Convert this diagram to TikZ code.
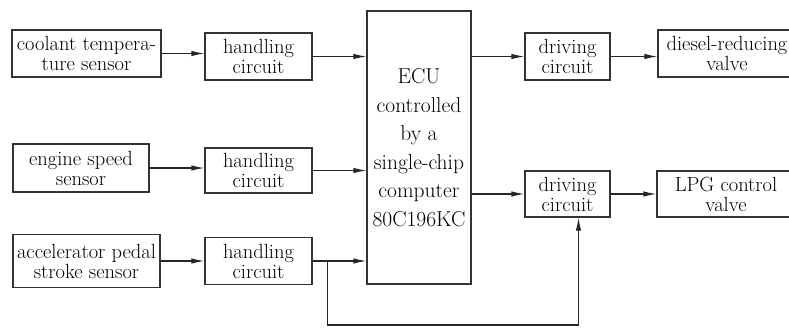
\documentclass[tikz,border=0pt]{standalone}
\usetikzlibrary{arrows.meta,calc}
\begin{document}
\begin{tikzpicture}[x=1pt,y=-1pt,
  box/.style={draw=black!80,line width=1.3pt,inner sep=0pt,align=center,font=\fontsize{20.5}{20}\selectfont},
  ecubox/.style={box,font=\fontsize{21.5}{28.5}\selectfont},
  arr/.style={draw=black!85,line width=1.1pt,-{Latex[length=13pt,width=5.5pt]}}]
\useasboundingbox (0,0) rectangle (789,327);
\clip (0,0) rectangle (789,327);
% sensors
\node[box,minimum width=149pt,minimum height=47pt] (cool) at (86.5,53.5) {coolant tempera-\\ture sensor};
\node[box,minimum width=136pt,minimum height=48pt] (eng) at (81,168) {engine speed\\sensor};
\node[box,minimum width=147pt,minimum height=53pt] (acc) at (86.5,261) {accelerator pedal\\stroke sensor};
% handling circuits
\node[box,minimum width=107pt,minimum height=47pt] (h1) at (258.5,56.5) {handling\\circuit};
\node[box,minimum width=107pt,minimum height=45pt] (h2) at (258.5,170.5) {handling\\circuit};
\node[box,minimum width=107pt,minimum height=47pt] (h3) at (258.5,261) {handling\\circuit};
% ECU
\node[ecubox,minimum width=104pt,minimum height=273pt] (ecu) at (419,147.5) {ECU\\controlled\\by a\\single-chip\\computer\\80C196KC};
% driving circuits
\node[box,minimum width=85pt,minimum height=47pt] (d1) at (567.5,56.5) {driving\\circuit};
\node[box,minimum width=85pt,minimum height=46pt] (d2) at (567.5,194) {driving\\circuit};
% valves
\node[box,minimum width=138pt,minimum height=47pt] (dsl) at (727,53.5) {diesel-reducing\\valve};
\node[box,minimum width=138pt,minimum height=46pt] (lpg) at (726,194) {LPG control\\valve};
% connectors
\draw[arr] (cool.east) -- (cool.east -| h1.west);
\draw[arr] (eng.east) -- (eng.east -| h2.west);
\draw[arr] (acc.east) -- (acc.east -| h3.west);
\draw[arr] (h1.east) -- (h1.east -| ecu.west);
\draw[arr] (h2.east) -- (h2.east -| ecu.west);
\draw[arr] (h3.east) -- (h3.east -| ecu.west);
\draw[arr] (d1.west -| ecu.east) -- (d1.west);
\draw[arr] (d2.west -| ecu.east) -- (d2.west);
\draw[arr] (d1.east) -- (d1.east -| dsl.west);
\draw[arr] (d2.east) -- (d2.east -| lpg.west);
\coordinate (br) at ($(h3.east)+(15,0)$);
\coordinate (bot) at ($(br)+(0,64)$);
\draw[arr] (br) -- (bot) -| ([xshift=11pt]d2.south);
\end{tikzpicture}
\end{document}
